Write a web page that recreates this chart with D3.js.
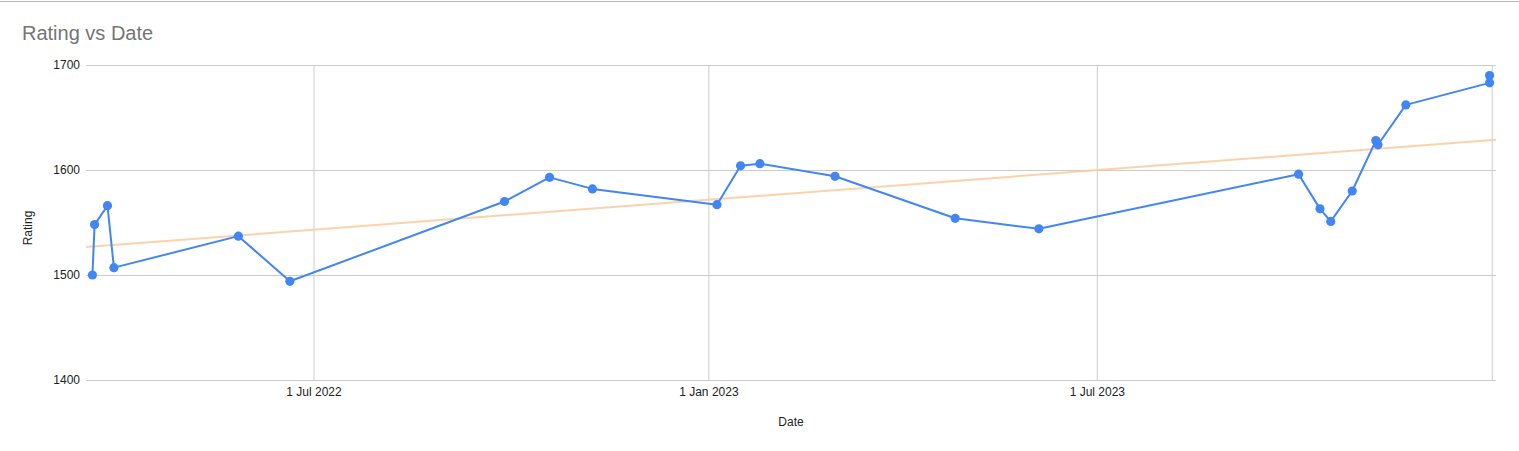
<!DOCTYPE html>
<html>
<head>
<meta charset="utf-8">
<script src="https://cdn.jsdelivr.net/npm/d3@7"></script>
<style>
  html, body { margin: 0; padding: 0; background: #fff; }
  svg { display: block; font-family: "Liberation Sans", Arial, sans-serif; }
</style>
</head>
<body>
<script>
// ---- data ----
const dates = [
  "2022-03-20", "2022-03-21", "2022-03-27", "2022-03-30", "2022-05-27", "2022-06-20",
  "2022-09-28", "2022-10-19", "2022-11-08", "2023-01-05", "2023-01-16", "2023-01-25",
  "2023-03-01", "2023-04-26", "2023-06-04", "2023-10-03", "2023-10-13", "2023-10-18",
  "2023-10-28", "2023-11-08", "2023-11-09", "2023-11-22", "2023-12-31", "2023-12-31"
];
const ratings = [
  1500, 1548, 1566, 1507, 1537, 1494,
  1570, 1593, 1582, 1567, 1604, 1606,
  1594, 1554, 1544, 1596, 1563, 1551,
  1580, 1628, 1624, 1662, 1683, 1690
];
const yTicks = [1400, 1500, 1600, 1700];
const xTickDates = ["2022-07-01", "2023-01-01", "2023-07-01", "2024-01-01"];
const xTickLabels = ["1 Jul 2022", "1 Jan 2023", "1 Jul 2023", ""];
const xDomain = ["2022-03-17", "2024-01-03"];
const yDomain = [1400, 1700];
const title = "Rating vs Date";
const xTitle = "Date";
const yTitle = "Rating";

// ---- layout ----
const W = 1519, H = 451;
const plot = { left: 86, right: 1496, top: 65, bottom: 380 };
const parse = d3.utcParse("%Y-%m-%d");
const data = dates.map((d, i) => ({ date: parse(d), rating: ratings[i] }));

const x = d3.scaleUtc().domain(xDomain.map(parse)).range([plot.left, plot.right]);
const y = d3.scaleLinear().domain(yDomain).range([plot.bottom, plot.top]);

const svg = d3.select("body").append("svg").attr("width", W).attr("height", H);

// top spreadsheet border
svg.append("line").attr("x1", 0).attr("x2", W).attr("y1", 1.5).attr("y2", 1.5)
  .attr("stroke", "#b7b7b7").attr("stroke-width", 1);

// title
svg.append("text").attr("x", 22).attr("y", 40).attr("fill", "#757575")
  .attr("font-size", 20).text(title);

// horizontal gridlines via axis
const yAxis = d3.axisLeft(y).tickValues(yTicks).tickSize(-(plot.right - plot.left)).tickPadding(7).tickFormat(d3.format("d"));
const gy = svg.append("g").attr("transform", `translate(${plot.left},0)`).call(yAxis);
gy.select(".domain").remove();
gy.selectAll(".tick line").attr("stroke", "#cccccc").attr("stroke-width", 1);
gy.selectAll(".tick text").attr("fill", "#222").attr("font-size", 12)
  .attr("font-family", "'Liberation Sans', Arial, sans-serif").attr("x", -6);

// vertical gridlines via axis
const tickDates = xTickDates.map(parse);
const xAxis = d3.axisBottom(x).tickValues(tickDates).tickSize(-(plot.bottom - plot.top)).tickPadding(0)
  .tickFormat((d, i) => xTickLabels[i]);
const gx = svg.append("g").attr("transform", `translate(0,${plot.bottom})`).call(xAxis);
gx.select(".domain").remove();
gx.selectAll(".tick line").attr("stroke", "#cccccc").attr("stroke-width", 1);
gx.selectAll(".tick text").attr("fill", "#222").attr("font-size", 12)
  .attr("font-family", "'Liberation Sans', Arial, sans-serif")
  .attr("y", 16).attr("dy", 0);

// trendline (least squares on the data)
const xs = data.map(d => +d.date), ys = data.map(d => d.rating);
const mx = d3.mean(xs), my = d3.mean(ys);
const slope = d3.sum(xs.map((v, i) => (v - mx) * (ys[i] - my))) / d3.sum(xs.map(v => (v - mx) ** 2));
const trend = x.domain().map(d => ({ date: d, rating: my + slope * (+d - mx) }));
svg.append("path").datum(trend)
  .attr("d", d3.line().x(d => x(d.date)).y(d => y(d.rating)))
  .attr("fill", "none").attr("stroke", "#f9cb9c").attr("stroke-opacity", 0.85).attr("stroke-width", 2);

// series line
svg.append("path").datum(data)
  .attr("d", d3.line().x(d => x(d.date)).y(d => y(d.rating)))
  .attr("fill", "none").attr("stroke", "#4285f4").attr("stroke-width", 2).attr("stroke-linejoin", "round");

// points
svg.append("g").selectAll("circle").data(data).join("circle")
  .attr("cx", d => x(d.date)).attr("cy", d => y(d.rating)).attr("r", 4.6)
  .attr("fill", "#4285f4");

// axis titles
svg.append("text").attr("x", (plot.left + plot.right) / 2).attr("y", 426)
  .attr("text-anchor", "middle").attr("font-size", 12).attr("fill", "#222").text(xTitle);
svg.append("text").attr("transform", "translate(32,228) rotate(-90)")
  .attr("text-anchor", "middle").attr("font-size", 12).attr("fill", "#222").text(yTitle);
</script>
</body>
</html>
